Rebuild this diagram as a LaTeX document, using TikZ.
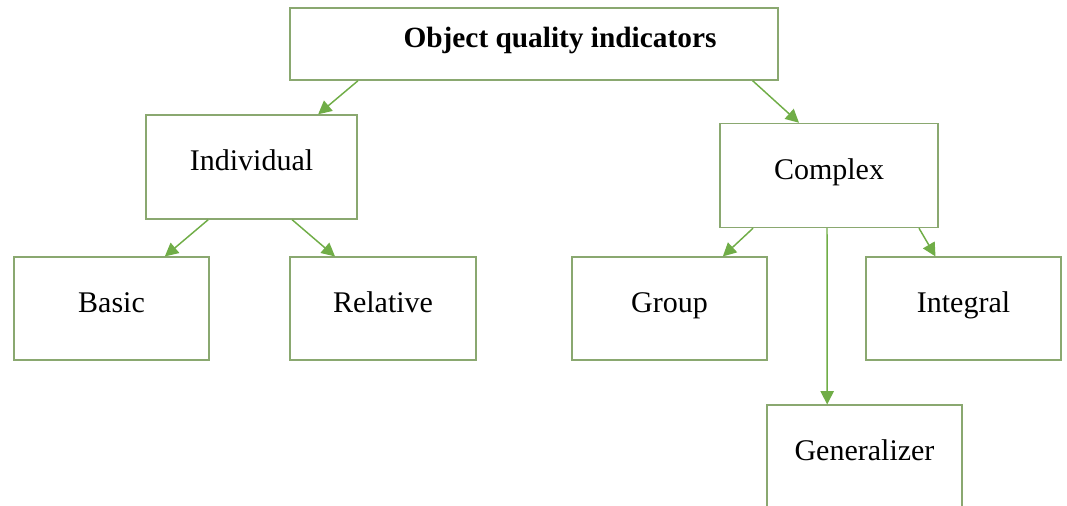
\documentclass[tikz,border=0pt]{standalone}
\usepackage{fontspec}
\setmainfont{Liberation Serif}
\usetikzlibrary{positioning,arrows.meta}
\definecolor{boxline}{RGB}{138,168,112}
\definecolor{arrowgreen}{RGB}{112,173,71}
\tikzset{
  box/.style={rectangle, draw=boxline, line width=1.1pt, fill=white,
    inner sep=0pt, text height=16pt, text depth=10pt, font=\fontsize{22.5pt}{26pt}\selectfont},
  topBox/.style={box, font=\bfseries\fontsize{22pt}{26pt}\selectfont},
%  leafBox/.style={box, fill=gray!10},
  link/.style={draw=arrowgreen, line width=1.1pt, -{Triangle[length=10pt,width=10pt]}}
}
\begin{document}
\begin{tikzpicture}[x=0.75pt, y=-0.75pt]
      \useasboundingbox (0,0) rectangle (1067,506);
      \node [topBox, minimum width=366pt, minimum height=54pt] (top) at (534,44) {\hspace*{39pt}Object quality indicators};
      \node [box, minimum width=158pt, minimum height=78pt] (ind) at (251.5,167) {Individual};
      \node [box, minimum width=163.5pt, minimum height=78pt] (cpx) at (829,175.5) {Complex};
      \node [box, minimum width=146pt, minimum height=77pt] (basic) at (111.5,308.5) {Basic};
      \node [box, minimum width=139.5pt, minimum height=77pt] (rel) at (383,308.5) {Relative};
      \node [box, minimum width=146pt, minimum height=77pt] (grp) at (669.5,308.5) {Group};
      \node [box, minimum width=146pt, minimum height=77pt] (intg) at (963.5,308.5) {Integral};
      \node [box, minimum width=146pt, minimum height=77pt] (gen) at (864.5,456.5) {Generalizer};
      % connectors
      \draw [link] ([xshift=-132pt]top.south) -- ([xshift=50pt]ind.north);
      \draw [link] ([xshift=164pt]top.south) -- ([xshift=-22.5pt]cpx.north);
      \draw [link] ([xshift=-32.5pt]ind.south) -- ([xshift=40pt]basic.north);
      \draw [link] ([xshift=30.5pt]ind.south) -- ([xshift=-36pt]rel.north);
      \draw [link] ([xshift=-57pt]cpx.south) -- ([xshift=40pt]grp.north);
      \draw [link] ([xshift=67.5pt]cpx.south) -- ([xshift=-21pt]intg.north);
      \draw [link] ([xshift=-1.5pt]cpx.south) -- ([xshift=-28pt]gen.north);
    \end{tikzpicture}
\end{document}
